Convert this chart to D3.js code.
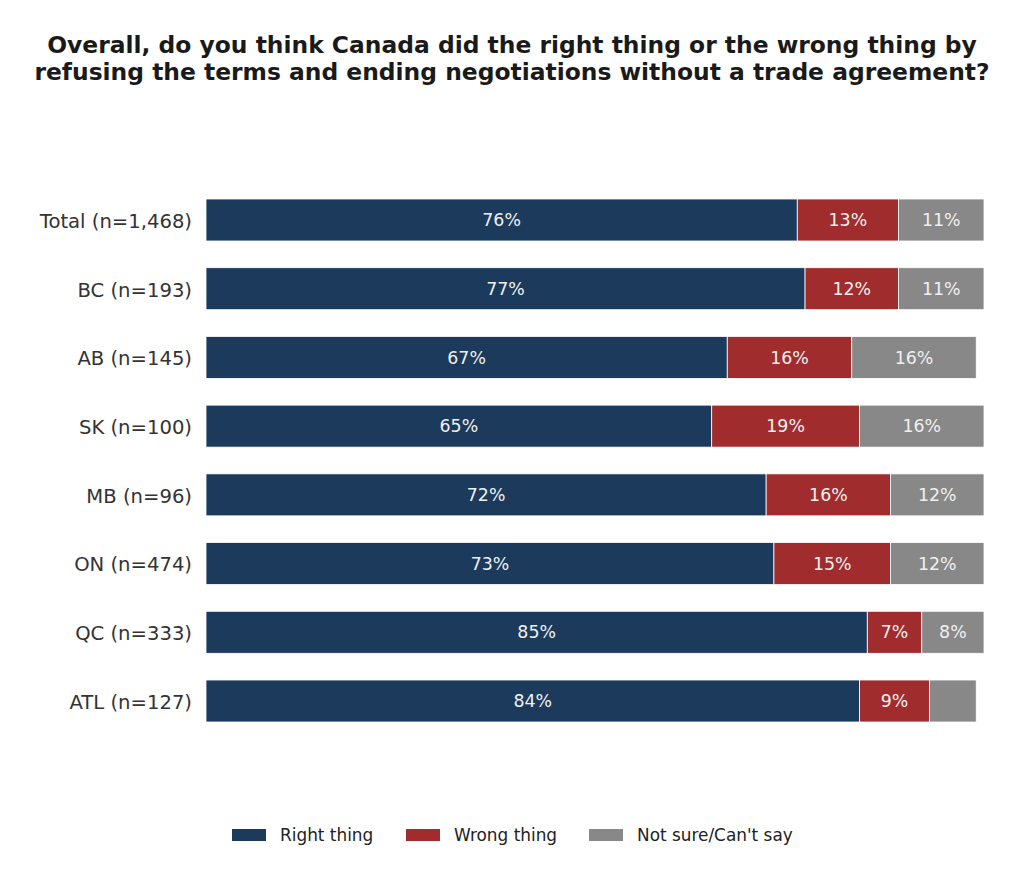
<!DOCTYPE html>
<html><head><meta charset="utf-8">
<script src="https://cdn.jsdelivr.net/npm/d3@7"></script>
<style>body{margin:0;background:#fff;font-family:"DejaVu Sans",sans-serif;}</style>
</head><body>
<svg id="c" width="1024" height="885"></svg>
<script>
const categories = ["Total (n=1,468)","BC (n=193)","AB (n=145)","SK (n=100)","MB (n=96)","ON (n=474)","QC (n=333)","ATL (n=127)"];
const rightThing = [76,77,67,65,72,73,85,84];
const wrongThing = [13,12,16,19,16,15,7,9];
const notSure = [11,11,16,16,12,12,8,6];
const seriesNames = ["Right thing","Wrong thing","Not sure/Can't say"];
const colors = ["#1b3a5c","#a02c2d","#888888"];
const titleLines = ["Overall, do you think Canada did the right thing or the wrong thing by","refusing the terms and ending negotiations without a trade agreement?"];

const svg = d3.select("#c");
const x = d3.scaleLinear().domain([0,100]).range([206,984]);
const y = d3.scaleBand().domain(categories).range([199,722]).paddingInner(0.389).paddingOuter(0);

svg.append("g").selectAll("text").data(titleLines).join("text")
  .attr("x",512).attr("y",(d,i)=>53+i*27).attr("text-anchor","middle")
  .attr("font-size",23.4).attr("font-weight","bold").attr("fill","#1a1a1a").text(d=>d);

const data = categories.map((c,i)=>({cat:c, vals:[rightThing[i],wrongThing[i],notSure[i]]}));
const segs = [];
data.forEach(d=>{let acc=0; d.vals.forEach((v,k)=>{segs.push({cat:d.cat,k,v,x0:acc,x1:acc+v}); acc+=v;});});

svg.append("g").selectAll("rect").data(segs).join("rect")
  .attr("x",d=>x(d.x0)).attr("width",d=>x(d.x1)-x(d.x0))
  .attr("y",d=>y(d.cat)).attr("height",y.bandwidth())
  .attr("fill",d=>colors[d.k]).attr("stroke","#fff").attr("stroke-width",0.8);

svg.append("g").selectAll("text").data(segs.filter(d=>d.v>=7)).join("text")
  .attr("x",d=>x((d.x0+d.x1)/2)).attr("y",d=>y(d.cat)+y.bandwidth()/2)
  .attr("dy","0.35em").attr("text-anchor","middle").attr("font-size",17.4)
  .attr("fill","#f0f0f0").text(d=>d.v+"%");

const yAxis = d3.axisLeft(y).tickSize(0).tickPadding(14);
const ga = svg.append("g").attr("transform","translate(206,0)").call(yAxis);
ga.select(".domain").remove();
ga.selectAll("text").attr("font-size",19.6).attr("fill","#333").attr("font-family","DejaVu Sans").attr("dy","0.4em");

const legX = [232,406,589];
const lg = svg.append("g").selectAll("g").data(seriesNames).join("g")
  .attr("transform",(d,i)=>`translate(${legX[i]},829)`);
lg.append("rect").attr("width",34).attr("height",12).attr("fill",(d,i)=>colors[i]);
lg.append("text").attr("x",48).attr("y",6).attr("dy","0.35em").attr("font-size",16.9).attr("fill","#222").text(d=>d);
</script>
</body></html>
